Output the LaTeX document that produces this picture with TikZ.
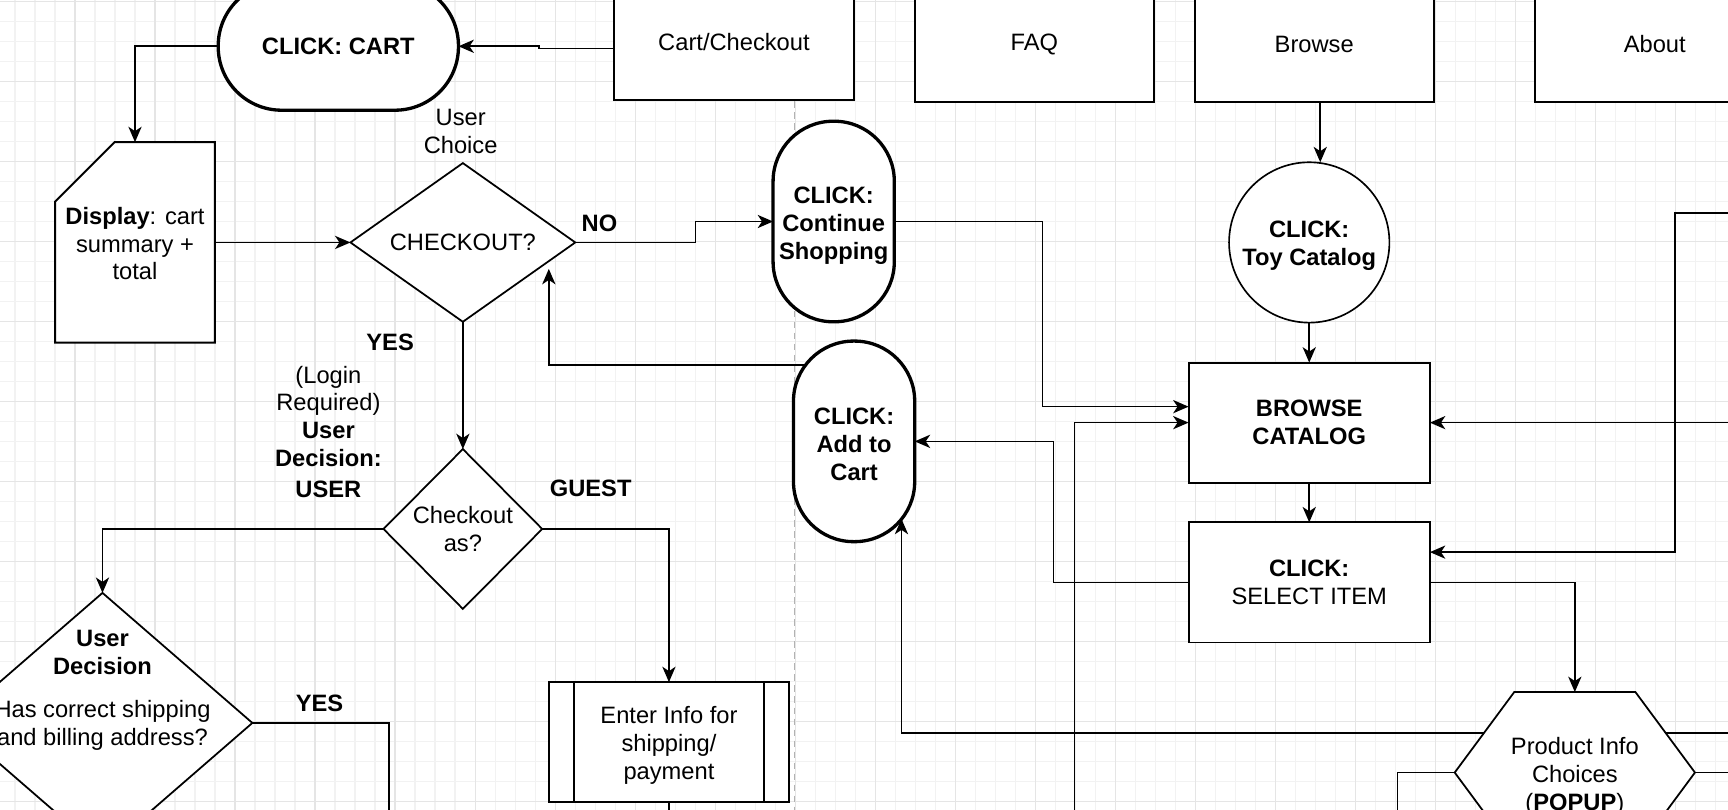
\documentclass[tikz,border=0pt]{standalone}
\usepackage{fontspec}
\setmainfont{Liberation Sans}
\usetikzlibrary{arrows.meta,shapes.geometric,calc}
\newcommand\myfs{\fontsize{21.5}{25.3}\selectfont}
\begin{document}
\begin{tikzpicture}[x=1pt,y=-1pt,
  every node/.style={font=\myfs, inner sep=0pt, outer sep=0pt},
  bold/.style={font=\myfs\bfseries},
  arr/.style={draw, line width=1.5pt, -{Stealth[length=14pt,width=12pt,inset=4pt]}},
  ln/.style={draw, line width=1.5pt},
  box/.style={draw, line width=1.8pt, fill=white, rectangle, minimum width=218pt, minimum height=106pt, align=center},
  stad/.style={draw, line width=3pt, fill=white, rectangle, align=center, font=\myfs\bfseries},
  dia/.style={draw, line width=1.6pt, fill=white, diamond, align=center},
  inv/.style={rectangle, draw=none},
  minorgrid/.style={draw=black!5, line width=1pt},
  majorgrid/.style={draw=black!10, line width=1pt}
]
\useasboundingbox (0,0) rectangle (1568,735);
\clip (0,0) rectangle (1568,735);
\fill[white] (0,0) rectangle (1568,735);
% grid
\foreach \i in {-4,...,84} {\draw[minorgrid] ({68.06+18.15*\i},0) -- ({68.06+18.15*\i},735);}
\foreach \j in {0,...,41} {\draw[minorgrid] (0,{1.5+18.15*\j}) -- (1568,{1.5+18.15*\j});}
\foreach \i in {-1,...,21} {\draw[majorgrid] ({68.06+72.6*\i},0) -- ({68.06+72.6*\i},735);}
\foreach \j in {0,...,10} {\draw[majorgrid] (0,{1.5+72.6*\j}) -- (1568,{1.5+72.6*\j});}
% separator
\draw[black!30, line width=1pt, dash pattern=on 6pt off 4pt] (721,92) -- (721,735);

% top boxes
\node[box] (cartbox) at (666,38) {Cart/Checkout};
\node[box, minimum width=217pt] (faq) at (938.5,40) {FAQ};
\node[box, minimum width=217pt] (browsebox) at (1192.5,40) {Browse};
\node[box, minimum width=217pt] (about) at (1501.5,40) {About};

% left column
\node[stad, minimum width=218pt, minimum height=116pt, rounded corners=57.5pt] (cart) at (307,42) {CLICK: CART};
\node[inv, minimum width=145pt, minimum height=182pt] (disp) at (122.5,220) {};
\draw[line width=1.8pt, fill=white] ($(disp.north west)+(0,54)$) -- ($(disp.north west)+(54,0)$) -- (disp.north east) -- (disp.south east) -- (disp.south west) -- cycle;
\node[align=center] (disptext) at (122.5,221) {\textbf{Display}: cart\\summary +\\total};

\node[dia, minimum width=204pt, minimum height=144pt, aspect=1.4] (chk) at (420,220) {CHECKOUT?};
\node[dia, minimum width=144pt, minimum height=145pt] (chkas) at (420,480) {Checkout\\as?};
\node[dia, minimum width=272pt, minimum height=236pt] (ud) at (93,656) {};
\node[align=center] (udtext) at (93,626.5) {\textbf{User}\\\textbf{Decision}\\[14pt]Has correct shipping\\and billing address?};

\node[box, minimum width=218.5pt, minimum height=109pt] (info) at (607,673.5) {};
\draw[line width=1.8pt] ($(info.north west)+(22.7,0)$) -- ($(info.south west)+(22.7,0)$);
\draw[line width=1.8pt] ($(info.north east)+(-22.7,0)$) -- ($(info.south east)+(-22.7,0)$);
\node[align=center] (infotext) at (607,676.5) {Enter Info for\\shipping/\\payment};

% middle
\node[stad, minimum width=110pt, minimum height=182pt, rounded corners=54.5pt] (cont) at (756.5,201) {};
\node[align=center, font=\myfs\bfseries] (conttext) at (756.5,205) {CLICK:\\Continue\\Shopping};
\node[stad, minimum width=110pt, minimum height=182pt, rounded corners=54.5pt] (add) at (775,400.5) {};
\node[align=center, font=\myfs\bfseries] (addtext) at (775,403.5) {CLICK:\\Add to\\Cart};

% right
\node[draw, circle, line width=1.5pt, fill=white, minimum size=145.5pt] (toy) at (1188,220) {};
\node[align=center, font=\myfs\bfseries] (toytext) at (1188,223) {CLICK:\\Toy Catalog};
\node[box, minimum width=219pt, minimum height=109pt, font=\myfs\bfseries] (browse) at (1188,383.5) {BROWSE\\CATALOG};
\node[box, minimum width=219pt, minimum height=109pt] (select) at (1188,528.5) {\textbf{CLICK:}\\SELECT ITEM};
\node[inv, minimum width=218pt, minimum height=146pt] (hex) at (1429,701) {};

% labels
\node[align=center] (lchoice) at (418,119.5) {User\\Choice};
\node[bold] (lno) at (544,203) {NO};
\node[bold] (lyes1) at (354,311) {YES};
\node[align=center] (llogin) at (298,392) {(Login\\Required)\\\textbf{User}\\\textbf{Decision:}\\[3pt]\textbf{USER}};
\node[bold] (lguest) at (536,443) {GUEST};
\node[bold] (lyes2) at (290,638) {YES};

% free ends
\coordinate (b1) at (975,745);
\coordinate (b2) at (1268,745);
\coordinate (b3) at (607,745);
\coordinate (b4) at (353,745);
\coordinate (r1) at (1580,383.5);
\coordinate (r2) at (1580,193);
\coordinate (r3) at (1580,665);
\coordinate (r4) at (1580,701);

% connectors
\draw[arr] ([yshift=-6pt]cartbox.west) -- (489,44) -- (489,42) -- (cart.east);
\draw[arr] (cart.west) -| (disp.north);
\draw[arr] (disp.east) -- (chk.west);
\draw[arr] (chk.east) -- (631,220) |- (cont.west);
\draw[arr] (cont.east) -- (946,201) |- ([yshift=14.5pt]browse.west);
\draw[arr] (b1) |- (browse.west);
\draw[arr] (r1) -- (browse.east);
\draw[arr] (r2) -- (1520,193) |- ([yshift=27.5pt]select.east);
\draw[arr] ([xshift=5.5pt]browsebox.south) -- ([xshift=10pt]toy.north);
\draw[arr] (toy.south) -- (browse.north);
\draw[arr] (browse.south) -- (select.north);
\draw[arr] (select.west) -- (956,528.5) |- (add.east);
\draw[arr] (select.east) -| (hex.north);
\draw[arr] (r3) -- (818,665) -- ($(add.center)+(43,70.3)$);
\draw[ln] (hex.west) -| (b2);
\draw[ln] (hex.east) -- (r4);
\draw[arr] ($(add.center)+(-43.6,-69.5)$) -- (498,331) -- ($(chk.center)+(78,24)$);
\draw[arr] (chk.south) -- (chkas.north);
\draw[arr] (chkas.west) -| (ud.north);
\draw[arr] (chkas.east) -| (info.north);
\draw[ln] (info.south) -- (b3);
\draw[ln] (ud.east) -| (b4);

% hexagon drawn last
\draw[line width=1.6pt, fill=white] (hex.west) -- ($(hex.north west)+(54,0)$) -- ($(hex.north east)+(-54,0)$) -- (hex.east) -- ($(hex.south east)+(-54,0)$) -- ($(hex.south west)+(54,0)$) -- cycle;
\node[align=center] (hextext) at (1429,704.5) {Product Info\\Choices\\(\textbf{POPUP})};
\end{tikzpicture}
\end{document}
